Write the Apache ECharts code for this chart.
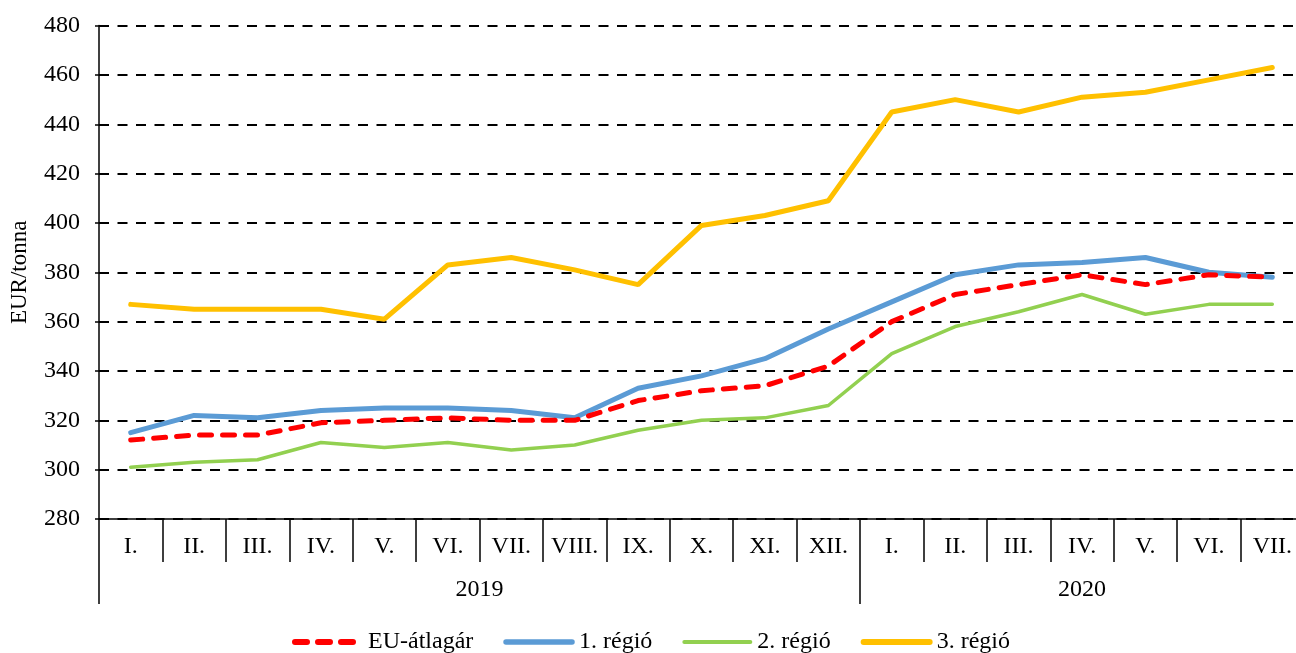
<!DOCTYPE html>
<html>
<head>
<meta charset="utf-8">
<script src="https://cdn.jsdelivr.net/npm/echarts@6/dist/echarts.min.js"></script>
<style>
html,body{margin:0;padding:0;background:#fff;overflow:hidden;width:1296px;height:653px;}
#chart{width:1304px;height:653px;}
</style>
</head>
<body>
<div id="chart"></div>
<script>
const months = ['I.','II.','III.','IV.','V.','VI.','VII.','VIII.','IX.','X.','XI.','XII.','I.','II.','III.','IV.','V.','VI.','VII.'];
const years = ['2019','2020'];
const monthsPerYear = [12, 7];
const yTicks = [280, 480, 20];
const seriesNames = ['EU-átlagár','1. régió','2. régió','3. régió'];
const euAvg   = [312,314,314,319,320,321,320,320,328,332,334,342,360,371,375,379,375,379,378];
const region1 = [315,322,321,324,325,325,324,321,333,338,345,357,368,379,383,384,386,380,378];
const region2 = [301,303,304,311,309,311,308,310,316,320,321,326,347,358,364,371,363,367,367];
const region3 = [367,365,365,365,361,383,386,381,375,399,403,409,445,450,445,451,453,458,463];

const yearBounds = [0];
const yearCenters = [];
monthsPerYear.forEach((n) => {
  const start = yearBounds[yearBounds.length - 1];
  yearCenters.push(start + n / 2);
  yearBounds.push(start + n);
});

const font = 'Liberation Serif';
const colors = ['#FF0000', '#5B9BD5', '#92D050', '#FFC000'];
const widths = [5, 5, 3.5, 5];
const legendWidths = [6, 5.5, 4, 6];

const chart = echarts.init(document.getElementById('chart'), null, {renderer: 'canvas'});
const option = {
  backgroundColor: '#ffffff',
  animation: false,
  grid: {left: 97, top: 25.6, right: 0, height: 493.4, containLabel: false},
  legend: {
    left: 287, top: 625,
    itemWidth: 66, itemHeight: 12, itemGap: 30,
    itemStyle: {opacity: 0},
    textStyle: {fontFamily: font, fontSize: 24, color: '#000', padding: [0, 0, 0, 2]},
    data: seriesNames.map((n, i) => ({
      name: n,
      lineStyle: {width: legendWidths[i], cap: 'round'}
    }))
  },
  xAxis: [{
    type: 'category',
    data: months,
    boundaryGap: true,
    axisLine: {show: true, lineStyle: {color: '#000', width: 1.5}},
    axisTick: {show: true, interval: 0, length: 43, lineStyle: {color: '#000', width: 1.5}},
    axisLabel: {interval: 0, margin: 16, fontFamily: font, fontSize: 24, color: '#000'},
    splitLine: {show: false}
  }, {
    type: 'value',
    min: 0, max: months.length,
    position: 'bottom',
    axisLine: {show: false},
    splitLine: {show: false},
    axisTick: {show: true, customValues: yearBounds.slice(0, -1), length: 85, lineStyle: {color: '#000', width: 1.5}},
    axisLabel: {
      customValues: yearCenters, margin: 59,
      fontFamily: font, fontSize: 24, color: '#000',
      formatter: v => { const i = yearCenters.indexOf(v); return i >= 0 ? years[i] : ''; }
    }
  }],
  yAxis: {
    type: 'value',
    min: yTicks[0], max: yTicks[1], interval: yTicks[2],
    name: 'EUR/tonna', nameLocation: 'middle', nameGap: 68,
    nameTextStyle: {fontFamily: font, fontSize: 23, color: '#000'},
    axisLine: {show: true, lineStyle: {color: '#000', width: 1.5}},
    axisTick: {show: true, length: 4, lineStyle: {color: '#000', width: 1.5}},
    axisLabel: {margin: 19, fontFamily: font, fontSize: 24, color: '#000'},
    splitLine: {show: true, lineStyle: {color: '#000', width: 2, type: [10, 8.5]}}
  },
  series: [
    {name: seriesNames[0], type: 'line', data: euAvg, symbol: 'none', z: 5,
     itemStyle: {color: colors[0]},
     lineStyle: {color: colors[0], width: widths[0], type: [12, 11], cap: 'round'}},
    {name: seriesNames[1], type: 'line', data: region1, symbol: 'none', z: 4,
     itemStyle: {color: colors[1]},
     lineStyle: {color: colors[1], width: widths[1], cap: 'round'}},
    {name: seriesNames[2], type: 'line', data: region2, symbol: 'none', z: 3,
     itemStyle: {color: colors[2]},
     lineStyle: {color: colors[2], width: widths[2], cap: 'round'}},
    {name: seriesNames[3], type: 'line', data: region3, symbol: 'none', z: 3,
     itemStyle: {color: colors[3]},
     lineStyle: {color: colors[3], width: widths[3], cap: 'round'}}
  ]
};
chart.setOption(option);
</script>
</body>
</html>
